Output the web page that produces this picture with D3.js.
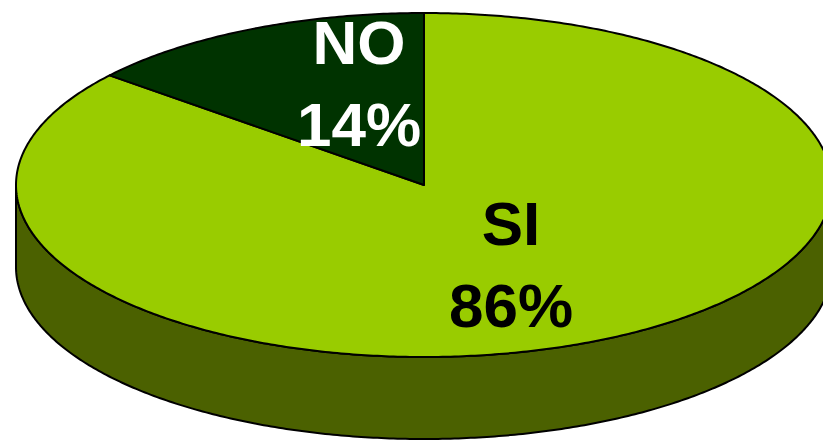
<!DOCTYPE html>
<html><head><meta charset="utf-8">
<script src="https://cdn.jsdelivr.net/npm/d3@7"></script>
<style>html,body{margin:0;padding:0;background:#fff;overflow:hidden}</style>
</head><body>
<svg id="chart" width="823" height="440"></svg>
<script>
const categories = ["SI", "NO"];
const values = [86, 14];
const labels = ["SI\n86%", "NO\n14%"];
const topColors = ["#99cc00", "#003300"];
const sideColors = ["#4b6100", "#002000"];
const labelColors = ["#000000", "#ffffff"];

const cx = 424, cy = 185, rx = 408, ry = 172, depth = 82;
const svg = d3.select("#chart");
const pie = d3.pie().sort(null).value(d => d)(values);

const pt = (a, dy = 0) => [cx + rx * Math.sin(a), cy - ry * Math.cos(a) + dy];
const samples = (a0, a1, dy = 0) => {
  const n = Math.max(2, Math.ceil(Math.abs(a1 - a0) / 0.01));
  return d3.range(n + 1).map(i => pt(a0 + (a1 - a0) * i / n, dy));
};
const line = d3.line();

// side walls (front half: angles between PI/2 and 3PI/2)
pie.forEach((s, i) => {
  const a0 = Math.max(s.startAngle, Math.PI / 2), a1 = Math.min(s.endAngle, 3 * Math.PI / 2);
  if (a1 <= a0) return;
  const top = samples(a0, a1), bot = samples(a1, a0, depth);
  svg.append("path").attr("d", line(top.concat(bot)) + "Z")
    .attr("fill", sideColors[i]).attr("stroke", "#000").attr("stroke-width", 2)
    .attr("stroke-linejoin", "round");
});

// top faces
pie.forEach((s, i) => {
  const pts = [[cx, cy]].concat(samples(s.startAngle, s.endAngle));
  svg.append("path").attr("d", line(pts) + "Z")
    .attr("fill", topColors[i]).attr("stroke", "#000").attr("stroke-width", 2)
    .attr("stroke-linejoin", "round");
});

// labels
const labelPos = [[511, 245, 327], [359, 64, 146]];
pie.forEach((s, i) => {
  const lines = labels[i].split("\n");
  lines.forEach((t, j) => {
    svg.append("text").attr("x", labelPos[i][0]).attr("y", labelPos[i][1 + j])
      .attr("text-anchor", "middle")
      .attr("font-family", "Liberation Sans, Arial, sans-serif")
      .attr("font-weight", "bold").attr("font-size", 62)
      .attr("fill", labelColors[i]).text(t);
  });
});
</script>
</body></html>
